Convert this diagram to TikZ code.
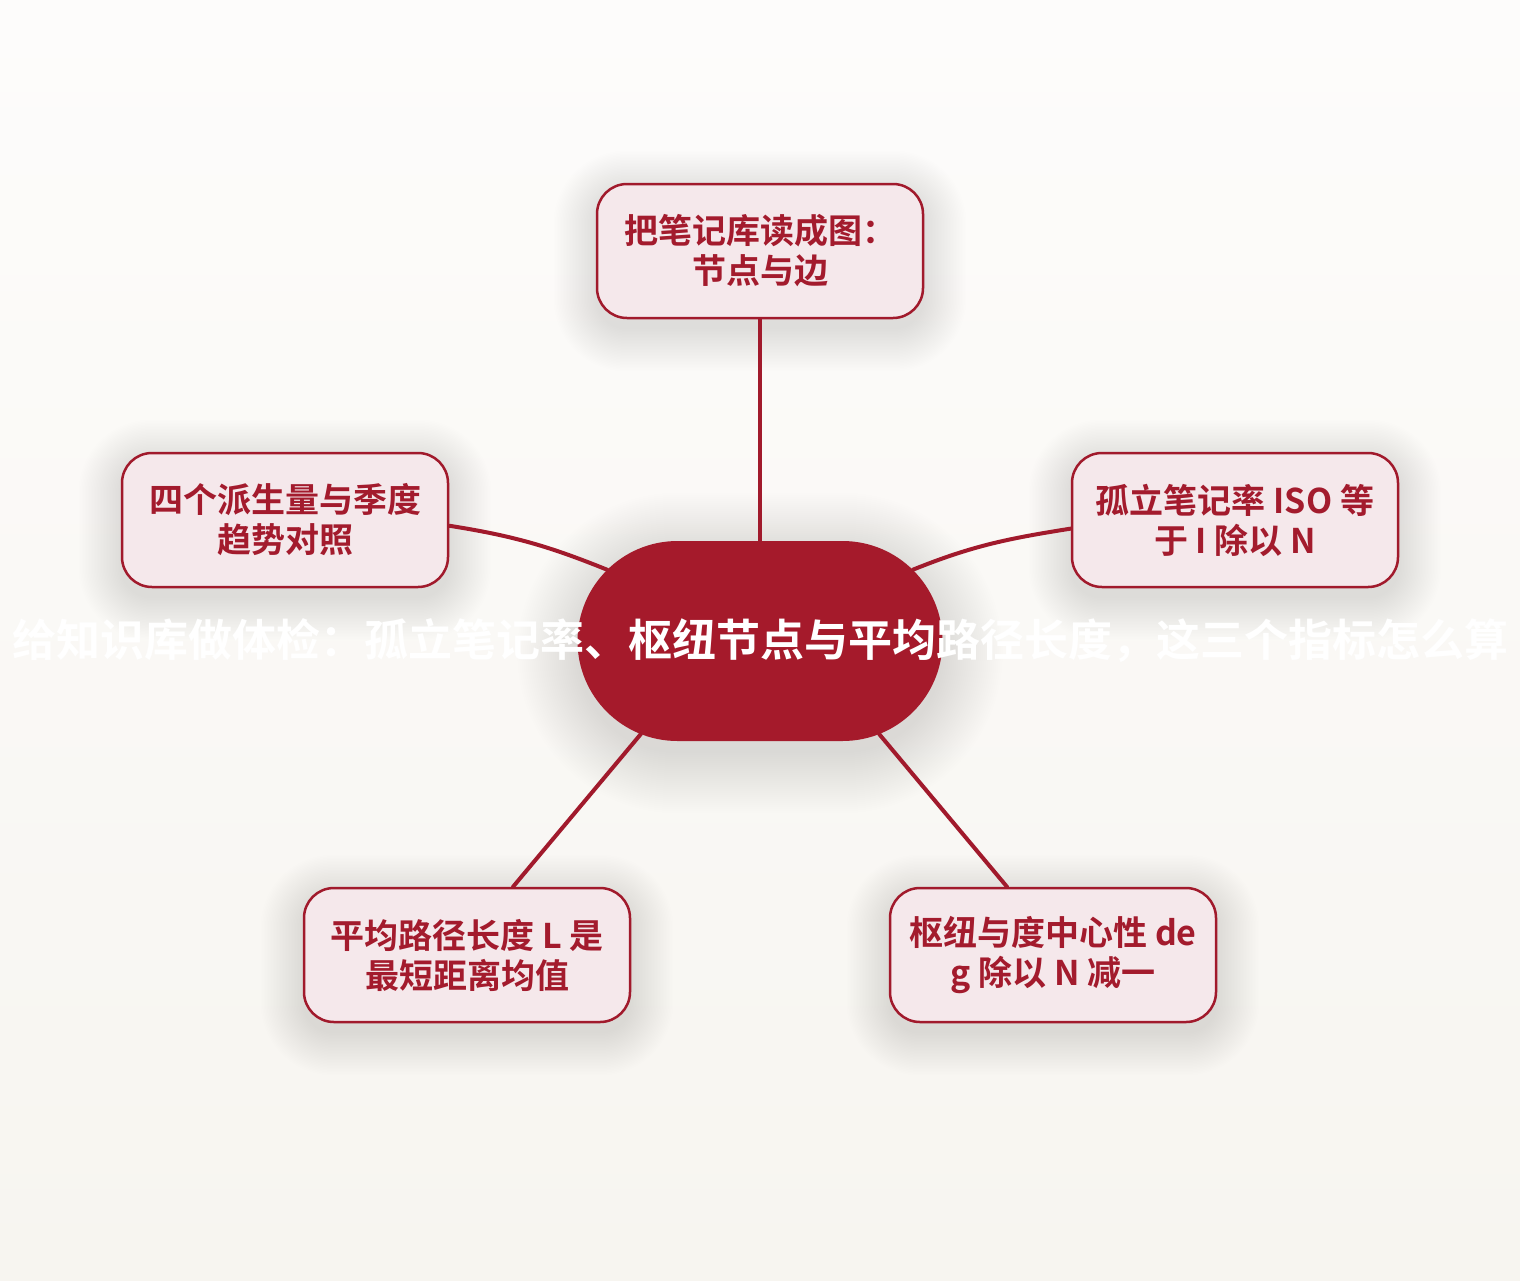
\documentclass[tikz,border=0pt]{standalone}
\usepackage{fontspec}
\setmainfont{Noto Sans CJK SC}[BoldFont={* Bold}]
\usetikzlibrary{shapes.misc,calc}
\definecolor{hubred}{HTML}{A51A2B}
\definecolor{linered}{HTML}{A11A2C}
\definecolor{boxfill}{HTML}{F5E8EB}
\definecolor{boxtext}{HTML}{A31B2D}
\definecolor{bgtop}{HTML}{FDFCFB}
\definecolor{bgbot}{HTML}{F7F5F0}
\pgfdeclarelayer{bg}
\pgfsetlayers{bg,main}
% soft shadow: #1 node, #2 downward offset, #3 base corner radius, #4 max spread, #5 step
\newcommand\softshadow[5]{%
  \foreach \s [evaluate=\s as \r using #3+\s] in {0,#5,...,#4} {%
    \fill[black, opacity=0.0045, rounded corners=\r pt]
      ($(#1.west |- #1.north)+(-\s,-\s+#2)$) rectangle
      ($(#1.east |- #1.south)+(\s,\s+#2)$);
  }}
\begin{document}
\begin{tikzpicture}[x=1pt,y=-1pt,
  topic/.style={draw=linered, line width=2.5pt, fill=boxfill, rounded corners=30pt,
    minimum width=326pt, minimum height=134pt, inner sep=0pt, align=center,
    text=boxtext, font=\bfseries\fontsize{34}{40}\selectfont},
  hubstyle/.style={rounded rectangle, fill=hubred, minimum width=365pt,
    minimum height=200pt, inner sep=0pt, text=white,
    font=\bfseries\fontsize{44}{52}\selectfont},
  link/.style={draw=linered, line width=4pt, line cap=round}]
  \useasboundingbox (0,0) rectangle (1520,1280);
  \begin{pgfonlayer}{bg}
    \fill[top color=bgtop, bottom color=bgbot] (0,0) rectangle (1520,1280);
  \end{pgfonlayer}

  \node[hubstyle] (hub) at (760,641)
    {\makebox[0pt]{给知识库做体检：孤立笔记率、枢纽节点与平均路径长度，这三个指标怎么算}};
  \node[topic] (top) at (760,251) {把笔记库读成图：\\节点与边};
  \node[topic] (right) at (1235,520) {孤立笔记率 ISO 等\\于 I 除以 N};
  \node[topic] (left) at (285,520) {四个派生量与季度\\趋势对照};
  \node[topic] (bl) at (467,955) {平均路径长度 L 是\\最短距离均值};
  \node[topic] (br) at (1053,955) {枢纽与度中心性 de\\g 除以 N 减一};

  \begin{pgfonlayer}{bg}
    \softshadow{hub}{12}{100}{60}{2}
    \softshadow{top}{10}{30}{42}{1.5}
    \softshadow{right}{10}{30}{42}{1.5}
    \softshadow{left}{10}{30}{42}{1.5}
    \softshadow{bl}{10}{30}{42}{1.5}
    \softshadow{br}{10}{30}{42}{1.5}
  \end{pgfonlayer}

  \draw[link] (top.south) -- (hub.north);
  \draw[link] (left.-2.5) to[out=-9,in=158] (hub.155);
  \draw[link] (right.183.5) to[out=189,in=22] (hub.25);
  \draw[link] (bl.56) -- (hub.218);
  \draw[link] (br.124) -- (hub.-38);
\end{tikzpicture}
\end{document}
